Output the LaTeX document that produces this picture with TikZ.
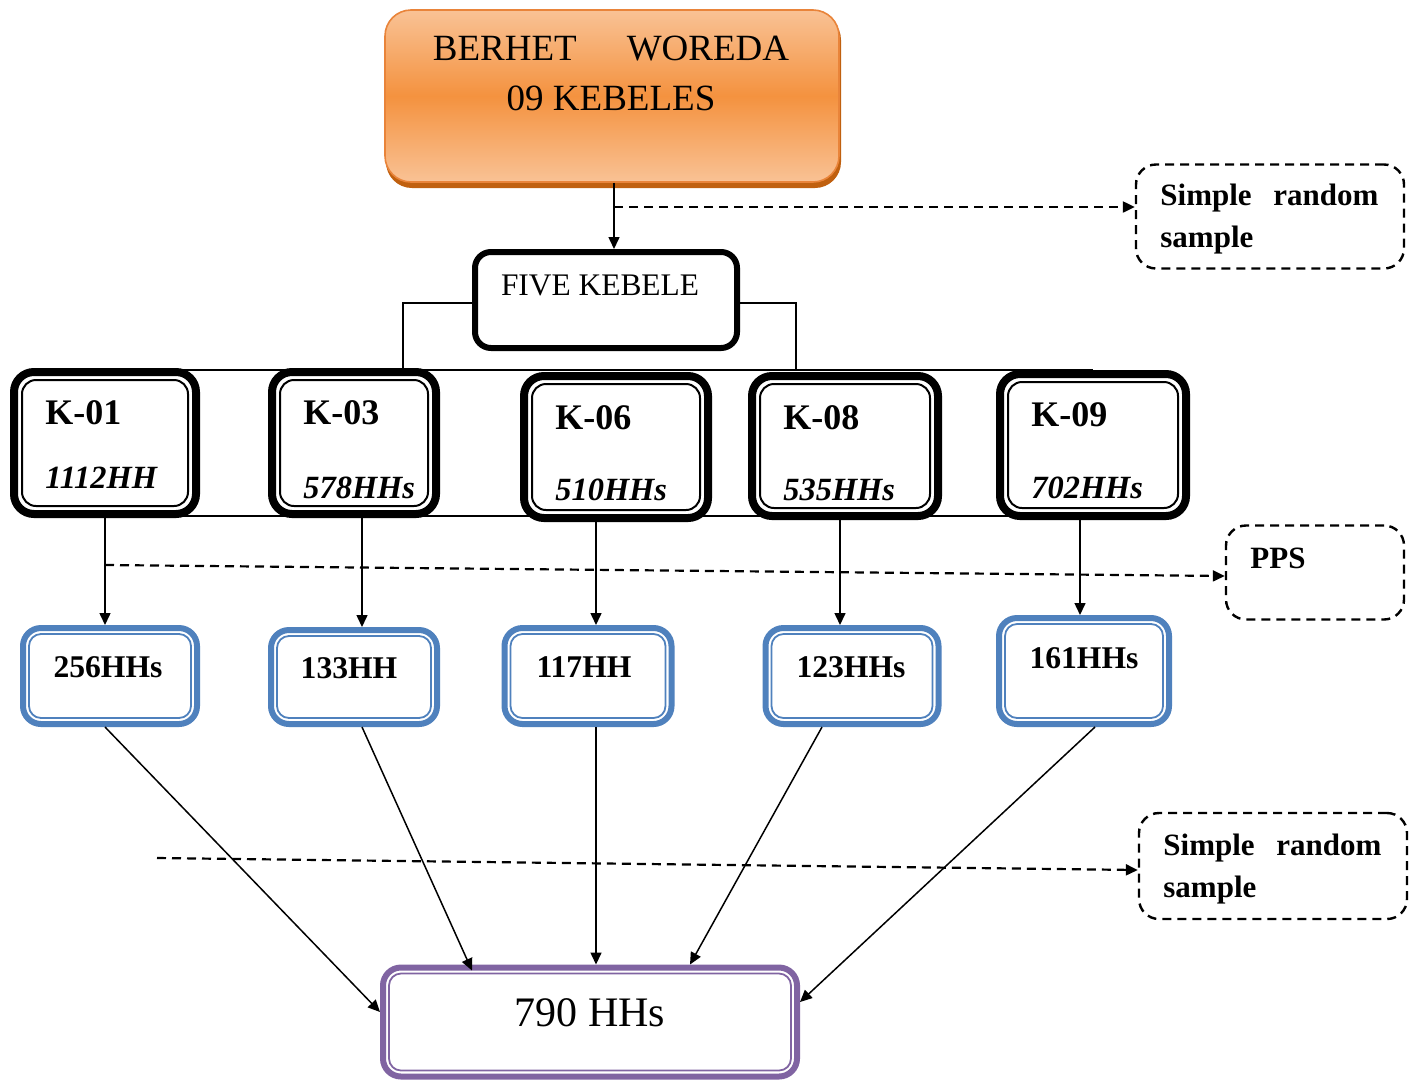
\documentclass[tikz,border=0pt]{standalone}
\usepackage{fontspec}
\setmainfont{Liberation Serif}
\usetikzlibrary{arrows.meta,backgrounds}
\definecolor{orMid}{HTML}{F4923F}
\definecolor{orLight}{HTML}{F9C295}
\definecolor{orEdge}{HTML}{E9843A}
\definecolor{orShadow}{HTML}{C0600F}
\definecolor{bxBlue}{HTML}{4F81BD}
\definecolor{bxPurple}{HTML}{8064A2}
\begin{document}
\begin{tikzpicture}[x=0.5pt,y=-0.5pt,
  arr/.style={line width=0.75pt, -{Triangle[length=6pt,width=5.5pt]}},
  darr/.style={line width=1.1pt, dash pattern=on 4.5pt off 3pt, -{Triangle[length=6pt,width=5.5pt]}},
  plain/.style={line width=0.75pt},
  kbox/.style={draw=black, line width=4pt, rounded corners=10pt, fill=white, inner sep=0pt},
  kin/.style={draw=black, line width=1pt, rounded corners=7pt, inner sep=0pt},
  bbox/.style={draw=bxBlue, line width=3pt, rounded corners=9pt, fill=white, inner sep=0pt},
  bin/.style={draw=#1, line width=0.9pt, rounded corners=6pt, inner sep=0pt},
  dbox/.style={draw=black, line width=1.2pt, dash pattern=on 4.5pt off 3pt, rounded corners=10pt, inner sep=0pt},
  ktitle/.style={anchor=west, inner sep=0pt, font=\fontsize{18}{21}\selectfont\bfseries},
  khh/.style={anchor=west, inner sep=0pt, font=\fontsize{16.2}{19}\selectfont\bfseries\itshape},
  blab/.style={inner sep=0pt, font=\fontsize{15.8}{18}\selectfont\bfseries},
  dlab/.style={anchor=west, inner sep=0pt, font=\fontsize{15.5}{18}\selectfont\bfseries},
]
\useasboundingbox (0,0) rectangle (1416,1082);
\begin{scope}[on background layer]
\fill[white] (0,0) rectangle (1416,1082);
\end{scope}

% top orange box
\fill[orShadow, rounded corners=13pt] (386,14) rectangle (841,188);
\node[draw=orEdge, line width=0.8pt, rounded corners=13pt, top color=orLight, bottom color=orLight, middle color=orMid,
  minimum width=227pt, minimum height=86pt, inner sep=0pt] (top) at (612,96) {};
\node[align=center, inner sep=0pt, font=\fontsize{18.5}{25}\selectfont] (topt) at (611,73)
  {BERHET\hspace{25pt}WOREDA\\09 KEBELES};

% five kebele
\node[draw=black, line width=3pt, rounded corners=8pt, fill=white, minimum width=131pt, minimum height=48pt,
  inner sep=0pt] (fk) at (606,300) {};
\node[inner sep=0pt, font=\fontsize{15.7}{18}\selectfont] (fkt) at (600,285) {FIVE KEBELE};

% K boxes
\node[kbox, minimum width=91pt, minimum height=71pt] (k1) at (105,443) {};
\node[kbox, minimum width=82pt, minimum height=71pt] (k3) at (354,443) {};
\node[kbox, minimum width=92pt, minimum height=71pt] (k6) at (616,447) {};
\node[kbox, minimum width=93pt, minimum height=70pt] (k8) at (845,446) {};
\node[kbox, minimum width=93pt, minimum height=71pt] (k9) at (1093,445) {};
\node[kin, minimum width=83pt, minimum height=63pt] (k1i) at (k1.center) {};
\node[kin, minimum width=74pt, minimum height=63pt] (k3i) at (k3.center) {};
\node[kin, minimum width=84pt, minimum height=63pt] (k6i) at (k6.center) {};
\node[kin, minimum width=85pt, minimum height=62pt] (k8i) at (k8.center) {};
\node[kin, minimum width=85pt, minimum height=63pt] (k9i) at (k9.center) {};

\node[ktitle] (k1a) at (45,413) {K-01};
\node[khh] (k1b) at (45,478) {1112HH};
\node[ktitle] (k3a) at (303,413) {K-03};
\node[khh] (k3b) at (303,488) {578HHs};
\node[ktitle] (k6a) at (555,418) {K-06};
\node[khh] (k6b) at (555,490) {510HHs};
\node[ktitle] (k8a) at (783,418) {K-08};
\node[khh] (k8b) at (783,490) {535HHs};
\node[ktitle] (k9a) at (1031,415) {K-09};
\node[khh] (k9b) at (1031,488) {702HHs};

% bracket lines (behind the boxes)
\coordinate (tl) at (403,370);
\coordinate (tr) at (796,370);
\coordinate (bl) at (105,516);
\begin{scope}[on background layer]
\draw[plain] ([yshift=-1.5pt]fk.west) -| (tl);
\draw[plain] ([yshift=-1.5pt]fk.east) -| (tr);
\draw[plain] (k1.center |- tl) -- (k9.center |- tl);
\draw[plain] (k1.center |- bl) -- (k9.center |- bl);
\end{scope}

% blue boxes
\node[bbox, minimum width=87pt, minimum height=48pt] (b1) at (110,676) {};
\node[bbox, minimum width=83pt, minimum height=47pt] (b2) at (354,677) {};
\node[bbox, minimum width=83.5pt, minimum height=48pt] (b3) at (588,676) {};
\node[bbox, minimum width=86.5pt, minimum height=48pt] (b4) at (852,676) {};
\node[bbox, minimum width=85pt, minimum height=53pt] (b5) at (1084,671) {};
\node[bin=bxBlue, minimum width=81pt, minimum height=42pt] (b1i) at (b1.center) {};
\node[bin=bxBlue, minimum width=77pt, minimum height=41pt] (b2i) at (b2.center) {};
\node[bin=bxBlue, minimum width=77.5pt, minimum height=42pt] (b3i) at (b3.center) {};
\node[bin=bxBlue, minimum width=80.5pt, minimum height=42pt] (b4i) at (b4.center) {};
\node[bin=bxBlue, minimum width=79pt, minimum height=47pt] (b5i) at (b5.center) {};
\node[blab] (b1t) at (108,667) {256HHs};
\node[blab] (b2t) at (349,668) {133HH};
\node[blab] (b3t) at (584,667) {117HH};
\node[blab] (b4t) at (851,667) {123HHs};
\node[blab] (b5t) at (1084,658) {161HHs};

% bottom purple box
\node[draw=bxPurple, line width=3pt, rounded corners=9pt, fill=white, minimum width=207pt, minimum height=54.5pt,
  inner sep=0pt] (bot) at (590,1022) {};
\node[bin=bxPurple, minimum width=201pt, minimum height=48.5pt] (boti) at (bot.center) {};
\node[inner sep=0pt, font=\fontsize{21}{24}\selectfont] (bott) at (590,1013) {790 HHs};

% dashed boxes
\node[dbox, minimum width=134pt, minimum height=52pt] (d1) at (1270,216.5) {};
\node[dlab] (d1a) at (1160,198) {\makebox[109pt][s]{Simple\hfill random}};
\node[dlab] (d1b) at (1160,240) {sample};
\node[dbox, minimum width=89pt, minimum height=47pt] (d2) at (1315,572.5) {};
\node[dlab] (d2a) at (1250,558) {PPS};
\node[dbox, minimum width=134pt, minimum height=53pt] (d3) at (1273,866) {};
\node[dlab] (d3a) at (1163,848) {\makebox[109pt][s]{Simple\hfill random}};
\node[dlab] (d3b) at (1163,890) {sample};

% connectors
\draw[arr] ([xshift=1pt]top.south) -- ([xshift=1pt]top.south |- fk.north);
\coordinate (s1) at (614,207);
\draw[darr] (s1) -- (s1 -| d1.west);

\draw[arr] (k1.south) -- (k1.south |- b1.north);
\draw[arr] ([xshift=4pt]k3.south) -- ([xshift=4pt]k3.south |- b2.north);
\draw[arr] ([xshift=-10pt,yshift=3.5pt]k6.south) -- ([xshift=-10pt]k6.south |- b3.north);
\draw[arr] ([xshift=-2.5pt]k8.south) -- ([xshift=-2.5pt]k8.south |- b4.north);
\draw[arr] ([xshift=-6.5pt]k9.south) -- ([xshift=-6.5pt]k9.south |- b5.north);

\coordinate (s2) at (105,565);
\draw[darr] (s2) -- ([yshift=-1.75pt]d2.west);

\draw[arr] ([xshift=-2.5pt]b1.south) -- ([yshift=5pt]bot.west);
\draw[arr] ([xshift=4pt]b2.south) -- ([xshift=-59pt,yshift=-3pt]bot.north);
\draw[arr] ([xshift=4pt]b3.south) -- ([xshift=3pt]bot.north);
\draw[arr] ([xshift=-15pt]b4.south) -- ([xshift=50pt]bot.north);
\draw[arr] ([xshift=5.5pt]b5.south) -- ([yshift=10pt]bot.east);

\coordinate (s3) at (157,858);
\draw[darr] (s3) -- ([yshift=-2pt]d3.west);
\end{tikzpicture}
\end{document}
